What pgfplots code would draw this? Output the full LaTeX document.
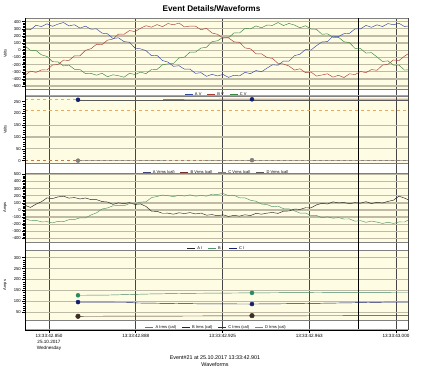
\documentclass[border=0pt]{standalone}
\usepackage{fontspec}
\setmainfont{Liberation Sans}
\usepackage{pgfplots}
\pgfplotsset{compat=1.18}

\definecolor{bgy}{RGB}{255,252,228}
\definecolor{gridk}{RGB}{190,186,165}
\definecolor{vgrid}{RGB}{70,70,70}
\definecolor{cblue}{RGB}{50,70,165}
\definecolor{cred}{RGB}{170,60,50}
\definecolor{cgreen}{RGB}{55,135,60}
\definecolor{igreen}{RGB}{80,150,100}
\definecolor{dgreen}{RGB}{40,140,95}
\definecolor{navy}{RGB}{20,30,110}
\definecolor{dbrown}{RGB}{60,45,38}
\definecolor{dred}{RGB}{120,45,45}
\definecolor{lorange}{RGB}{230,170,100}
\definecolor{dorange}{RGB}{190,120,80}

\newcommand\tinyf{\fontsize{4.2}{4.8}\selectfont}
\newcommand\legf{\fontsize{4}{4.4}\selectfont}

\pgfplotsset{
  panel/.style={
    scale only axis, width=383pt, xmin=0, xmax=69.64,
    axis background/.style={fill=bgy},
    xtick={4.364,20.136,35.909,51.682,67.455},
    xticklabels={}, xtick style={draw=none},
    xmajorgrids, x grid style={vgrid, line width=0.5pt},
    y grid style={gridk, line width=1.3pt},
    ytick pos=left, tick align=outside,
    major tick length=3pt, minor tick length=1.5pt,
    minor y tick num=4,
    ytick style={black, line width=0.4pt},
    axis line style={gray, line width=0.4pt},
    /pgf/number format/assume math mode=true,
    yticklabel style={font=\tinyf, inner sep=1pt},
    ylabel style={font=\legf, at={(axis description cs:-0.052,0.5)}, anchor=center},
    legend style={at={(0.5,0)}, anchor=north, draw=none, fill=none,
      font=\legf, legend columns=-1, inner sep=0.5pt,
      /tikz/every even column/.append style={column sep=3.5pt}},
    legend image code/.code={\draw[##1] (0pt,0pt) -- (8pt,0pt);},
    every axis plot/.append style={line width=0.45pt},
    anchor=south west,
  }
}

\begin{document}
\begin{tikzpicture}
\useasboundingbox (0pt,0pt) rectangle (422pt,368pt);

% vertical grid through bands
\begin{axis}[scale only axis, width=383pt, height=312pt, at={(25pt,38pt)}, anchor=south west,
  xmin=0, xmax=69.64, ymin=0, ymax=1, axis line style={draw=none}, ytick=\empty,
  xtick={4.364,20.136,35.909,51.682,67.455}, xticklabels={}, xtick style={draw=none},
  xmajorgrids, x grid style={vgrid, line width=0.5pt}]
\addplot[black, line width=0.8pt, forget plot] coordinates {(60.545,0) (60.545,1)};
\end{axis}

% band frames
\draw[gray!70, line width=0.4pt] (25pt,273pt) rectangle (408pt,279pt);
\draw[gray!70, line width=0.4pt] (25pt,195pt) rectangle (408pt,205pt);
\draw[gray!70, line width=0.4pt] (25pt,118pt) rectangle (408pt,126pt);
\draw[gray!70, line width=0.4pt] (25pt,39pt) rectangle (408pt,48pt);

% Panel 1: voltage waveforms
\begin{axis}[panel, at={(25pt,279pt)}, height=71pt, ymin=-540, ymax=450,
  ytick={-500,-400,...,400}, ymajorgrids, ylabel={Volts},
  legend style={yshift=-0.8pt}]
\addplot[black, line width=0.8pt, forget plot] coordinates {(60.545,-600) (60.545,500)};
\addplot[cblue] coordinates {(0,295) (1,287) (2,348) (3,331) (4,369) (5,334) (6,365) (7,387) (8,340) (9,356) (10,309) (11,336) (12,294) (13,299) (14,239) (15,230) (16,164) (17,174) (18,121) (19,112) (20,31) (21,20) (22,-5) (23,-75) (24,-71) (25,-143) (26,-165) (27,-224) (28,-215) (29,-264) (30,-262) (31,-322) (32,-312) (33,-364) (34,-335) (35,-358) (36,-337) (37,-378) (38,-348) (39,-357) (40,-308) (41,-326) (42,-282) (43,-300) (44,-249) (45,-202) (46,-208) (47,-150) (48,-151) (49,-75) (50,-55) (51,11) (52,3) (53,65) (54,116) (55,121) (56,197) (57,190) (58,232) (59,236) (60,298) (61,298) (62,347) (63,320) (64,355) (65,331) (66,372) (67,356) (68,376) (69,331) (70,342)};
\addlegendentry{A V}
\addplot[cred] coordinates {(0,-348) (1,-291) (2,-308) (3,-274) (4,-275) (5,-206) (6,-198) (7,-138) (8,-141) (9,-77) (10,-77) (11,0) (12,22) (13,84) (14,79) (15,141) (16,157) (17,226) (18,223) (19,275) (20,260) (21,307) (22,343) (23,322) (24,358) (25,329) (26,373) (27,355) (28,380) (29,325) (30,338) (31,336) (32,286) (33,306) (34,241) (35,223) (36,170) (37,174) (38,117) (39,112) (40,33) (41,20) (42,-49) (43,-49) (44,-101) (45,-113) (46,-183) (47,-192) (48,-219) (49,-276) (50,-258) (51,-312) (52,-303) (53,-360) (54,-344) (55,-328) (56,-375) (57,-349) (58,-380) (59,-328) (60,-339) (61,-296) (62,-311) (63,-269) (64,-279) (65,-207) (66,-195) (67,-135) (68,-144) (69,-82) (70,-32)};
\addlegendentry{B V}
\addplot[cgreen] coordinates {(0,59) (1,-1) (2,-3) (3,-64) (4,-86) (5,-159) (6,-162) (7,-218) (8,-207) (9,-265) (10,-268) (11,-327) (12,-322) (13,-348) (14,-320) (15,-369) (16,-342) (17,-355) (18,-376) (19,-321) (20,-338) (21,-305) (22,-326) (23,-268) (24,-267) (25,-202) (26,-190) (27,-182) (28,-107) (29,-96) (30,-25) (31,-25) (32,31) (33,42) (34,121) (35,132) (36,182) (37,174) (38,242) (39,241) (40,304) (41,299) (42,339) (43,314) (44,352) (45,347) (46,387) (47,345) (48,374) (49,352) (50,314) (51,342) (52,296) (53,292) (54,223) (55,230) (56,180) (57,181) (58,119) (59,106) (60,26) (61,24) (62,-39) (63,-33) (64,-93) (65,-156) (66,-148) (67,-207) (68,-206) (69,-276) (70,-271)};
\addlegendentry{C V}
\end{axis}

% Panel 2: Vrms
\begin{axis}[panel, at={(25pt,205pt)}, height=67pt, ymin=-10, ymax=274,
  ytick={0,50,...,250}, extra y ticks={50,100,150}, extra y tick labels={},
  extra y tick style={grid=major}, ylabel={Volts},
  legend style={yshift=-4.5pt}]
\addplot[black, line width=0.8pt, forget plot] coordinates {(60.545,-20) (60.545,300)};
\addplot[lorange, dashed, forget plot] coordinates {(0,212) (70,212)};
\addplot[dorange, dashed, forget plot] coordinates {(0,0) (70,0)};
\addplot[lorange, dashed, forget plot] coordinates {(0,259) (9.636,259)};
\addplot[navy!60!gray] coordinates {(9.636,258) (25.1,258) (41.27,258) (70,258)};
\addlegendentry{A Vrms (cal)}
\addplot[dred] coordinates {(25.1,260) (55,261) (70,261)};
\addlegendentry{B Vrms (cal)}
\addplot[gray] coordinates {(9.636,0) (41.27,1) (70,1)};
\addlegendentry{C Vrms (cal)}
\addplot[gray!70!black] coordinates {(9.636,255) (41.27,255) (70,255)};
\addlegendentry{D Vrms (cal)}
\addplot[only marks, mark=*, mark size=2pt, navy, forget plot] coordinates {(9.636,258) (41.27,260)};
\addplot[only marks, mark=*, mark size=2pt, gray, forget plot] coordinates {(9.636,0) (41.27,2)};
\end{axis}

% Panel 3: current waveforms
\begin{axis}[panel, at={(25pt,126pt)}, height=69pt, ymin=-450, ymax=520,
  ytick={-400,-300,...,500}, ymajorgrids, ylabel={Amps},
  legend style={yshift=-1.8pt}]
\addplot[black, line width=0.8pt, forget plot] coordinates {(60.545,-500) (60.545,600)};
\addplot[black!85] coordinates {(0,66) (1,36) (2,82) (3,116) (4,170) (5,161) (6,184) (7,194) (8,167) (9,175) (10,155) (11,169) (12,146) (13,146) (14,119) (15,112) (16,79) (17,100) (18,90) (19,104) (20,78) (21,85) (22,50) (23,-17) (24,-19) (25,-46) (26,-45) (27,-59) (28,-39) (29,-50) (30,-37) (31,-55) (32,-44) (33,-73) (34,-65) (35,-81) (36,-68) (37,-90) (38,-76) (39,-86) (40,-67) (41,-79) (42,-47) (43,-59) (44,-44) (45,-35) (46,-48) (47,-16) (48,-14) (49,14) (50,8) (51,32) (52,30) (53,72) (54,94) (55,84) (56,114) (57,100) (58,105) (59,89) (60,103) (61,96) (62,117) (63,91) (64,108) (65,98) (66,121) (67,138) (68,195) (69,167) (70,134)};
\addlegendentry{A I}
\addplot[igreen] coordinates {(0,-121) (1,-148) (2,-145) (3,-167) (4,-164) (5,-182) (6,-159) (7,-164) (8,-136) (9,-134) (10,-110) (11,-111) (12,-70) (13,-40) (14,14) (15,29) (16,59) (17,62) (18,60) (19,90) (20,88) (21,111) (22,115) (23,174) (24,190) (25,210) (26,201) (27,188) (28,208) (29,196) (30,213) (31,194) (32,204) (33,195) (34,222) (35,219) (36,232) (37,202) (38,206) (39,172) (40,170) (41,137) (42,123) (43,83) (44,77) (45,46) (46,54) (47,18) (48,15) (49,-12) (50,-43) (51,-43) (52,-77) (53,-77) (54,-109) (55,-96) (56,-116) (57,-107) (58,-127) (59,-126) (60,-157) (61,-150) (62,-173) (63,-156) (64,-170) (65,-189) (66,-172) (67,-189) (68,-168) (69,-169) (70,-129)};
\addlegendentry{B I}
\addlegendimage{navy}
\addlegendentry{C I}
\end{axis}

% Panel 4: Irms
\begin{axis}[panel, at={(25pt,48pt)}, height=70pt, ymin=15, ymax=335,
  ytick={50,100,...,300}, ymajorgrids, ylabel={Amps},
  legend style={yshift=-2.5pt}]
\addplot[black, line width=0.8pt, forget plot] coordinates {(60.545,0) (60.545,400)};
\addplot[dgreen!70!gray] coordinates {(9.636,128) (15,129) (22.7,134) (30,137) (41.27,139) (55,141) (70,142)};
\addlegendentry{A Irms (cal)}
\addplot[navy] coordinates {(9.636,97) (19,96) (20,93) (31.8,89) (41.27,88) (50,90) (60,94) (67,97) (70,97)};
\addlegendentry{B Irms (cal)}
\addplot[dbrown] coordinates {(9.636,32) (41.27,34) (70,35)};
\addlegendentry{C Irms (cal)}
\addlegendimage{gray}
\addlegendentry{D Irms (cal)}
\addplot[only marks, mark=*, mark size=2pt, dgreen, forget plot] coordinates {(9.636,128) (41.27,139)};
\addplot[only marks, mark=*, mark size=2pt, navy, forget plot] coordinates {(9.636,97) (41.27,88)};
\addplot[only marks, mark=*, mark size=2.3pt, dbrown, forget plot] coordinates {(9.636,32) (41.27,35)};
\end{axis}

% time axis
\begin{axis}[scale only axis, width=383pt, height=1pt, at={(25pt,38pt)}, anchor=south west,
  xmin=0, xmax=69.64, ymin=0, ymax=1, axis x line*=bottom, axis y line=none,
  xtick={4.364,20.136,35.909,51.682,67.455},
  xticklabels={{13:33:42.850\\25.10.2017\\Wednesday},13:33:42.888,13:33:42.925,13:33:42.963,13:33:43.000},
  minor x tick num=4, tick align=outside, major tick length=3pt, minor tick length=2pt,
  axis line style={black, line width=0.8pt}, xtick style={black, line width=0.5pt},
  xticklabel style={font=\fontsize{4.6}{6}\selectfont, align=center, inner sep=1pt}]
\addplot[draw=none, forget plot] coordinates {(0,0) (1,0)};
\end{axis}

% outer lines
\draw[black, line width=0.8pt] (25pt,38pt) -- (25pt,350pt);
\draw[vgrid, line width=0.5pt] (408pt,38pt) -- (408pt,350pt);

\node[font=\bfseries\fontsize{8.2}{9}\selectfont] at (211.5pt,359pt) {Event Details/Waveforms};
\node[font=\fontsize{5.4}{6}\selectfont] at (215pt,10pt) {Event\#21 at 25.10.2017 13:33:42.901};
\node[font=\fontsize{5.4}{6}\selectfont] at (215pt,3pt) {Waveforms};
\end{tikzpicture}
\end{document}
